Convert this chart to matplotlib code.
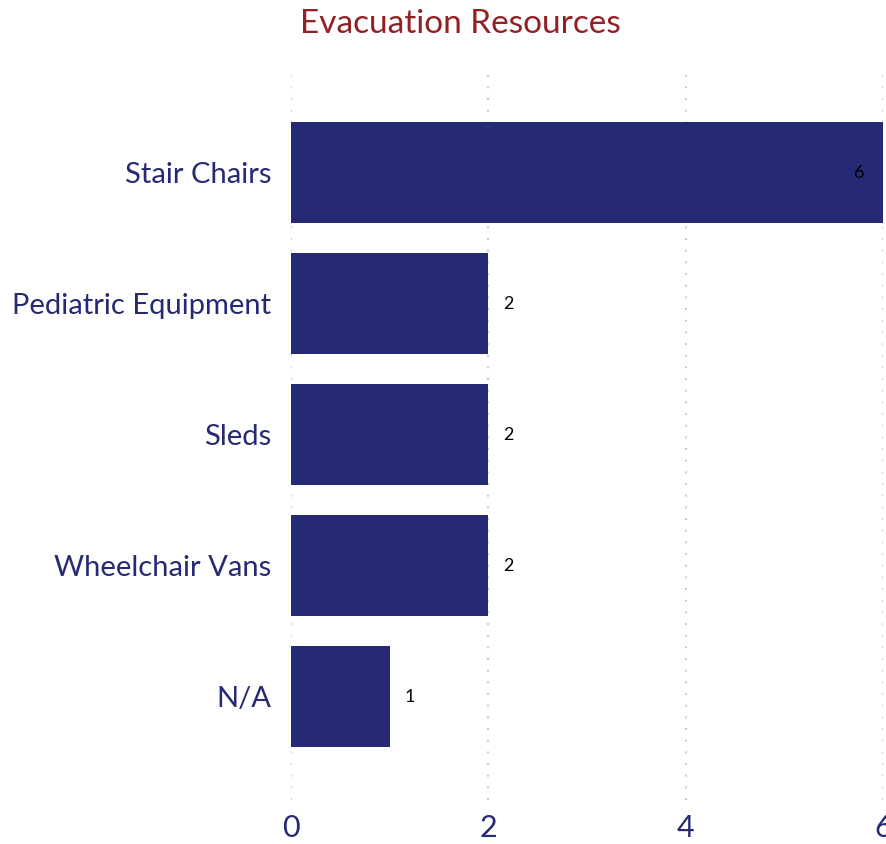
import matplotlib
matplotlib.use("Agg")
import matplotlib.pyplot as plt

categories = ["Stair Chairs", "Pediatric Equipment", "Sleds", "Wheelchair Vans", "N/A"]
counts = [6, 2, 2, 2, 1]
xticks = [0, 2, 4, 6]

BAR = "#262a74"
TITLE = "#922125"
plt.rcParams["font.family"] = ["Lato", "DejaVu Sans"]

fig = plt.figure(figsize=(8.86, 8.44), dpi=100)
ax = fig.add_axes([0.3284, 0.0521, 0.6682, 0.8626])

ypos = list(range(len(categories)))
ax.barh(ypos, counts, height=0.77, color=BAR, zorder=2)
ax.set_ylim(4.79, -0.77)
ax.set_xlim(0, 6)
ax.set_xticks(xticks)
ax.set_yticks(ypos)
ax.set_yticklabels(categories, fontsize=21, color=BAR)
ax.tick_params(axis="x", labelsize=22, labelcolor=BAR, length=0, pad=10)
ax.tick_params(axis="y", length=0, pad=14)
ax.grid(axis="x", linestyle=(0, (1, 5)), color="#c8c8c8", linewidth=1.4, zorder=3)
for s in ax.spines.values():
    s.set_visible(False)

vmax = max(counts)
for y, v in zip(ypos, counts):
    if v == vmax:
        ax.annotate(str(v), (v, y), xytext=(-13, 0), textcoords="offset points",
                    ha="right", va="center", fontsize=13, color="black")
    else:
        ax.annotate(str(v), (v, y), xytext=(11, 0), textcoords="offset points",
                    ha="left", va="center", fontsize=13, color="black")

fig.text(0.52, 0.972, "Evacuation Resources", ha="center", va="center",
         fontsize=24, color=TITLE)

fig.savefig("out.png", dpi=100)
